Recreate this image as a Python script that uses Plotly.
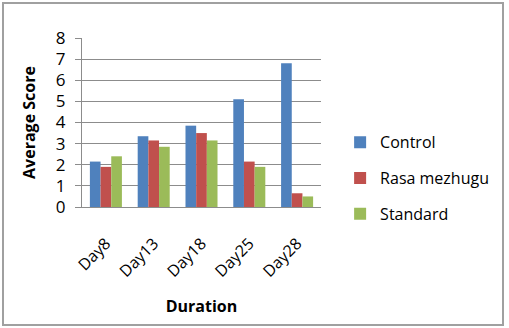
import plotly.graph_objects as go

categories = ["Day8", "Day13", "Day18", "Day25", "Day28"]
control = [2.15, 3.35, 3.85, 5.1, 6.8]
rasa_mezhugu = [1.9, 3.15, 3.5, 2.15, 0.65]
standard = [2.4, 2.85, 3.15, 1.9, 0.5]

series = [
    ("Control", control, "#4F81BD"),
    ("Rasa mezhugu", rasa_mezhugu, "#C0504D"),
    ("Standard", standard, "#9BBB59"),
]

W, H = 509, 328
ML, MR, MT, MB = 82, 188, 38, 121
PW, PH = W - ML - MR, H - MT - MB

fig = go.Figure()
for name, vals, color in series:
    fig.add_trace(go.Bar(
        x=categories, y=vals, name=name, legendgroup=name,
        marker=dict(color=color, line=dict(width=0)),
    ))

font_family = "Open Sans, Liberation Sans, sans-serif"

fig.update_layout(
    width=W, height=H,
    margin=dict(l=ML, r=MR, t=MT, b=MB, pad=0),
    paper_bgcolor="white", plot_bgcolor="white",
    barmode="group", bargap=0.33, bargroupgap=0,
    font=dict(family=font_family, color="black", size=16),
    showlegend=True,
    legend=dict(
        x=1.08, y=0.17, xanchor="left", yanchor="middle",
        font=dict(size=16), tracegroupgap=12, traceorder="grouped",
        bgcolor="rgba(0,0,0,0)",
    ),
    xaxis=dict(
        showgrid=False, showline=True, linecolor="#8C8C8C", linewidth=1,
        tickangle=-45, tickfont=dict(size=16), ticks="",
        ticklabelstandoff=20,
        title=dict(text="<b>Duration</b>", font=dict(size=16), standoff=20),
    ),
    yaxis=dict(
        range=[0, 8], dtick=1, showgrid=True, gridcolor="#8C8C8C", gridwidth=1,
        showline=True, linecolor="#8C8C8C", linewidth=1,
        ticks="outside", ticklen=6, tickcolor="#8C8C8C",
        tickfont=dict(size=17), zeroline=False, ticklabelstandoff=6,
        title=dict(text="<b>Average Score</b>", font=dict(size=16), standoff=16),
    ),
)

# outer chart frame
fig.add_shape(
    type="rect", xref="paper", yref="paper",
    x0=(3 - ML) / PW, x1=(503 - ML) / PW,
    y0=(H - 325 - MB) / PH, y1=(H - 3 - MB) / PH,
    line=dict(color="#A0A0A0", width=2), fillcolor="rgba(0,0,0,0)",
    layer="below",
)

fig.write_html("out.html")
